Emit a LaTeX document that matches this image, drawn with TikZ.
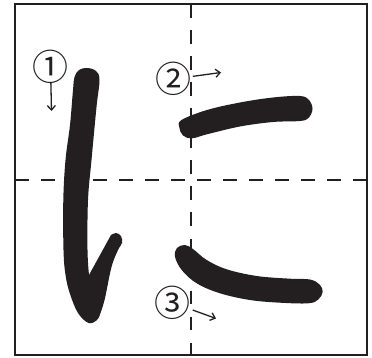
\documentclass[tikz,border=0pt]{standalone}
\usepackage{fontspec}
\newfontfamily\jpfont{Noto Sans CJK JP}
\usetikzlibrary{arrows.meta}
\definecolor{ink}{HTML}{231F20}

\begin{document}
\begin{tikzpicture}[
  x=1pt, y=-1pt,
  frame/.style={draw=ink, line width=2pt},
  guide/.style={draw=ink, line width=2.3pt, dash pattern=on 13.5pt off 12.5pt},
  brush/.style={fill=ink},
  order/.style={inner sep=0pt, text=ink,
                font=\jpfont\fontsize{36}{36}\selectfont},
  dirarr/.style={draw=ink, line width=1.3pt, -{Straight Barb[length=4.5pt, width=8pt]}}
]
\useasboundingbox (0,0) rectangle (372,358);
% square with guide cross
\draw[guide] (190.7,4.5) -- (190.7,355);
\draw[guide] (15,179.7) -- (366.5,179.7);
\draw[frame] (15,4.5) rectangle (366.5,355);

% stroke 1
\fill[brush] plot[smooth, tension=0.6] coordinates {
  (89,275) (87.5,250) (88,200) (91.5,160) (96.5,107) (99.5,80) (96,71) (87,68)
  (79,70) (74.5,77) (73,90) (70,125) (65.5,160) (63.3,200) (63.5,250) (65.5,275)
  (70,294) (78,313) (88.5,323) (97,320) (100.5,313) (105,298) (111.5,267)
  (118,250) (122,243) (121,236) (116,233) (111,235)} -- cycle;
% stroke 2
\fill[brush] plot[smooth cycle, tension=0.6] coordinates {
  (181.5,120) (207,110) (240,102.5) (273,97.5) (300,96) (309,100) (312.5,109)
  (308.5,118) (300,121) (273,122) (240,126.5) (207,134.3) (192,138.3) (183,135.5)
  (179.3,127.5)};
% stroke 3
\fill[brush] plot[smooth cycle, tension=0.6] coordinates {
  (177,248) (185,245) (193.3,249.3) (206.7,260) (226.7,269.3) (256.7,276)
  (290,278.7) (310,279.5) (319.5,284.5) (322.7,291.7) (318.3,299.5) (308.3,303.3)
  (280,302.7) (250,300) (220,293.3) (196.7,283.3) (181.7,270) (175,256.7)};

% order numbers and directions
\node[order] (n1) at (50.5,66.5) {①};
\node[order] (n2) at (173.5,79) {②};
\node[order] (n3) at (172,302.5) {③};
\coordinate (e1) at (51.5,111);
\coordinate (e2) at (221,72.5);
\coordinate (e3) at (216,318.5);
\draw[dirarr, shorten <=15.5pt] (n1.center) -- (e1);
\draw[dirarr, shorten <=19.5pt] (n2.center) -- (e2);
\draw[dirarr, shorten <=22pt] (n3.center) -- (e3);
\end{tikzpicture}
\end{document}
